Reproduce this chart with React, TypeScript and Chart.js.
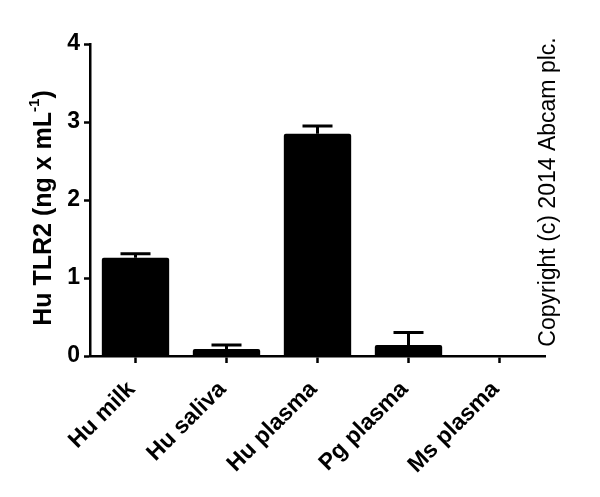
import React, { useEffect, useRef } from 'react';
import { Chart, registerables } from 'chart.js';

Chart.register(...registerables);

const categories = ['Hu milk', 'Hu saliva', 'Hu plasma', 'Pg plasma', 'Ms plasma'];
const values = [1.26, 0.09, 2.85, 0.14, 0];
const errors = [0.05, 0.05, 0.1, 0.16, 0];
const yTicks = [0, 1, 2, 3, 4];

const FONT = 'Arial, "Liberation Sans", sans-serif';

// upper error bars, drawn from the bar tops
const errorBarPlugin = {
    id: 'errorBars',
    afterDatasetsDraw(chart: any) {
        const { ctx } = chart;
        const meta = chart.getDatasetMeta(0);
        const yScale = chart.scales.y;
        ctx.save();
        ctx.strokeStyle = '#000';
        ctx.lineWidth = 3;
        meta.data.forEach((bar: any, i: number) => {
            if (!errors[i]) return;
            const top = yScale.getPixelForValue(values[i] + errors[i]);
            ctx.beginPath();
            ctx.moveTo(bar.x, bar.y);
            ctx.lineTo(bar.x, top);
            ctx.moveTo(bar.x - 15, top);
            ctx.lineTo(bar.x + 15, top);
            ctx.stroke();
        });
        ctx.restore();
    },
};

// y title with superscript, and the copyright note
const textPlugin = {
    id: 'extraText',
    afterDraw(chart: any) {
        const { ctx } = chart;
        ctx.save();
        ctx.fillStyle = '#000';
        ctx.textBaseline = 'middle';
        ctx.translate(44, 208);
        ctx.rotate(-Math.PI / 2);
        const main = 'Hu TLR2 (ng x mL';
        const sup = '-1';
        const end = ')';
        ctx.font = `bold 25px ${FONT}`;
        const w1 = ctx.measureText(main).width;
        const w3 = ctx.measureText(end).width;
        ctx.font = `bold 15px ${FONT}`;
        const w2 = ctx.measureText(sup).width;
        let x = -(w1 + w2 + w3) / 2;
        ctx.textAlign = 'left';
        ctx.font = `bold 25px ${FONT}`;
        ctx.fillText(main, x, 0);
        x += w1;
        ctx.font = `bold 15px ${FONT}`;
        ctx.fillText(sup, x, -9);
        x += w2;
        ctx.font = `bold 25px ${FONT}`;
        ctx.fillText(end, x, 0);
        ctx.restore();

        ctx.save();
        ctx.fillStyle = '#000';
        ctx.font = `23px ${FONT}`;
        ctx.textAlign = 'center';
        ctx.textBaseline = 'middle';
        ctx.translate(549, 192);
        ctx.rotate(-Math.PI / 2);
        ctx.fillText('Copyright (c) 2014 Abcam plc.', 0, 0);
        ctx.restore();
    },
};

const BarChart: React.FC = () => {
    const chartRef = useRef<HTMLCanvasElement>(null);

    useEffect(() => {
        if (chartRef.current) {
            const chartInstance = new Chart(chartRef.current, {
                type: 'bar',
                data: {
                    labels: categories,
                    datasets: [
                        {
                            data: values,
                            backgroundColor: '#000',
                            borderRadius: 2,
                            categoryPercentage: 1,
                            barPercentage: 0.74,
                        },
                    ],
                },
                options: {
                    animation: false,
                    responsive: true,
                    maintainAspectRatio: false,
                    layout: { padding: { left: 0, right: 55, top: 44, bottom: 0 } },
                    plugins: {
                        legend: { display: false },
                        tooltip: { enabled: false },
                    },
                    scales: {
                        x: {
                            offset: true,
                            grid: {
                                display: true,
                                offset: false,
                                drawOnChartArea: false,
                                drawTicks: true,
                                tickLength: 7,
                                tickWidth: 2.5,
                                color: '#000',
                            },
                            border: { display: true, color: '#000', width: 2.5 },
                            ticks: {
                                color: '#000',
                                font: { family: FONT, size: 23, weight: 'bold' },
                                minRotation: 45,
                                maxRotation: 45,
                                padding: 13,
                                labelOffset: -4,
                            },
                            afterFit: (scale: any) => {
                                scale.height = 497 - 356;
                            },
                        },
                        y: {
                            min: 0,
                            max: 4,
                            afterBuildTicks: (scale: any) => {
                                scale.ticks = yTicks.map((v) => ({ value: v }));
                            },
                            grid: {
                                display: true,
                                drawOnChartArea: false,
                                drawTicks: true,
                                tickLength: 6,
                                tickWidth: 2.5,
                                color: '#000',
                            },
                            border: { display: true, color: '#000', width: 2.5 },
                            ticks: {
                                color: '#000',
                                font: { family: FONT, size: 23, weight: 'bold' },
                                padding: 4,
                            },
                            afterFit: (scale: any) => {
                                scale.width = 90;
                            },
                        },
                    },
                },
                plugins: [errorBarPlugin, textPlugin],
            });

            return () => {
                chartInstance.destroy();
            };
        }
    }, []);

    return <canvas ref={chartRef} />;
};

export default function App() {
    return (
        <div style={{ position: 'absolute', left: 0, top: 0, width: 600, height: 497, background: '#fff' }}>
            <BarChart />
        </div>
    );
}
